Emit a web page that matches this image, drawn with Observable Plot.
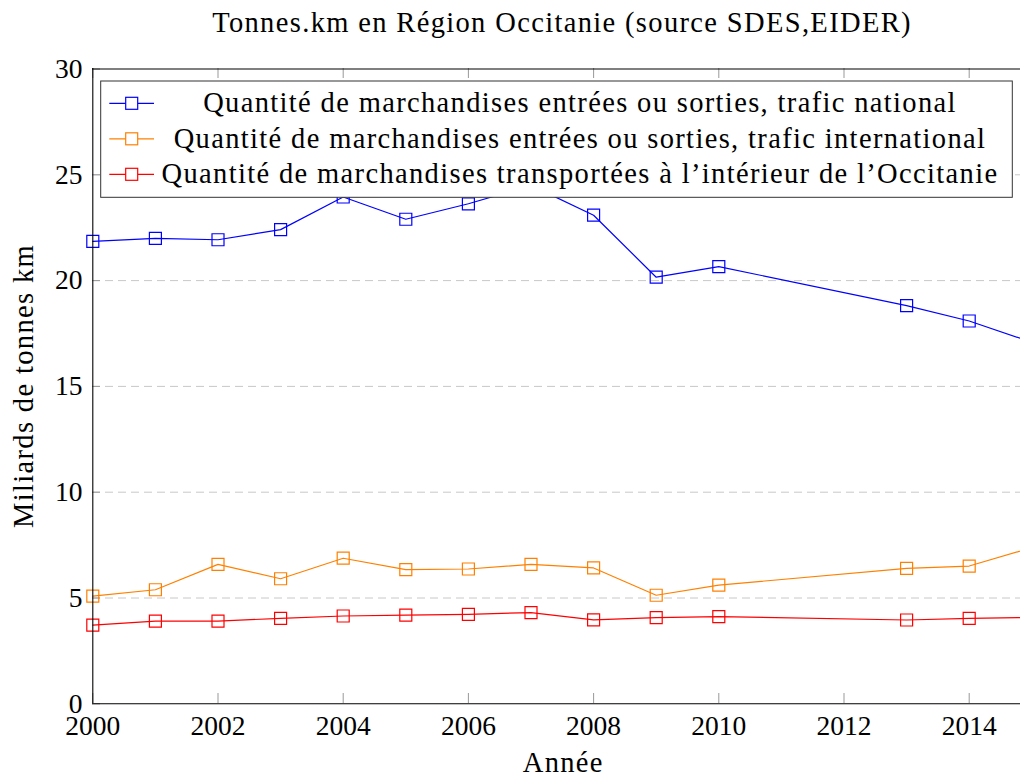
<!DOCTYPE html>
<html><head><meta charset="utf-8">
<script src="https://cdn.jsdelivr.net/npm/d3@7"></script>
<script src="https://cdn.jsdelivr.net/npm/@observablehq/plot@0.6"></script>
<style>html,body{margin:0;padding:0;background:#fff;overflow:hidden}</style>
</head><body><div id="chart"></div>
<script>
const title = "Tonnes.km en Région Occitanie (source SDES,EIDER)";
const xLabel = "Année";
const yLabel = "Miliards de tonnes km";
const years = [2000, 2001, 2002, 2003, 2004, 2005, 2006, 2007, 2008, 2009, 2010, 2013, 2014, 2015];
const seriesNames = [
  "Quantité de marchandises entrées ou sorties, trafic national",
  "Quantité de marchandises entrées ou sorties, trafic international",
  "Quantité de marchandises transportées à l’intérieur de l’Occitanie"
];
const national      = [21.85, 22.0, 21.93, 22.41, 23.95, 22.9, 23.63, 24.5, 23.09, 20.16, 20.66, 18.82, 18.09, 17.09];
const international = [5.09, 5.39, 6.59, 5.91, 6.88, 6.34, 6.37, 6.59, 6.42, 5.13, 5.61, 6.4, 6.51, 7.38];
const interieur     = [3.72, 3.91, 3.91, 4.04, 4.15, 4.19, 4.23, 4.31, 3.97, 4.07, 4.12, 3.96, 4.04, 4.08];
const xTicks = [2000, 2002, 2004, 2006, 2008, 2010, 2012, 2014];
const yTicks = [0, 5, 10, 15, 20, 25, 30];
const gridValues = [5, 10, 15, 20, 25];
const colors = ["#0000ff", "#ff8000", "#ff0000"];

const data = [];
[national, international, interieur].forEach((vals, i) =>
  vals.forEach((v, j) => data.push({year: years[j], value: v, series: seriesNames[i]})));

const FONT = "'Liberation Serif', 'Times New Roman', serif";
const FS = 28.5;
const TICK_FS = 27.5;
const LS = "1.35px";

function legend() {
  const g = d3.create("svg:g");
  const x0 = 100.7, y0 = 81, w = 911.6, h = 116.3;
  g.append("rect").attr("x", x0).attr("y", y0).attr("width", w).attr("height", h)
    .attr("fill", "white").attr("stroke", "#333").attr("stroke-width", 1);
  seriesNames.forEach((name, i) => {
    const cy = 103.3 + i * 35.5;
    const c = colors[i];
    g.append("line").attr("x1", 109.3).attr("x2", 154).attr("y1", cy).attr("y2", cy)
      .attr("stroke", c).attr("stroke-width", 1.2);
    g.append("rect").attr("x", 131.7 - 6).attr("y", cy - 6).attr("width", 12).attr("height", 12)
      .attr("fill", "white").attr("stroke", c).attr("stroke-width", 1.2);
    g.append("text").attr("x", 580).attr("y", 112 + i * 35.5)
      .attr("text-anchor", "middle").attr("fill", "black")
      .style("font-family", FONT).style("font-size", FS + "px").style("letter-spacing", LS)
      .text(name);
  });
  return g.node();
}

const chart = Plot.plot({
  width: 1020, height: 775,
  marginLeft: 92, marginRight: 0, marginTop: 68, marginBottom: 72,
  style: {fontFamily: FONT, fontSize: FS + "px", background: "white", color: "black", letterSpacing: LS},
  x: {domain: [2000, 2015], range: [92.3, 1031.3]},
  y: {domain: [0, 30], range: [703.3, 68.5]},
  color: {domain: seriesNames, range: colors},
  marks: [
    Plot.ruleY(gridValues, {y: d => d, stroke: "#c8c8c8", strokeDasharray: "8,5", strokeWidth: 1}),
    Plot.tickX(xTicks, {x: d => d, insetTop: 625, stroke: "#999"}),
    Plot.tickX(xTicks, {x: d => d, insetBottom: 625, stroke: "#999"}),
    Plot.tickY(yTicks, {y: d => d, insetRight: 920, stroke: "#999"}),
    Plot.line(data, {x: "year", y: "value", z: "series", stroke: "series", strokeWidth: 1.2}),
    Plot.dot(data, {x: "year", y: "value", stroke: "series", symbol: "square", r: 6.77, strokeWidth: 1.2, fill: "none"}),
    Plot.ruleY([0], {y: d => d, stroke: "black", strokeWidth: 1.1}),
    Plot.ruleY([30], {y: d => d, stroke: "black", strokeWidth: 1.1}),
    Plot.ruleX([2000], {x: d => d, stroke: "black", strokeWidth: 1.1}),
    Plot.axisX({ticks: xTicks, tickSize: 0, tickPadding: 12, tickFormat: d => String(d), label: null, fontSize: TICK_FS}),
    Plot.axisY({ticks: yTicks, tickSize: 0, tickPadding: 10, tickFormat: d => String(d), label: null, fontSize: TICK_FS}),
    Plot.text([xLabel], {text: d => d, frameAnchor: "bottom", dy: 68, dx: 6.8, lineAnchor: "bottom"}),
    Plot.text([yLabel], {text: d => d, frameAnchor: "left", textAnchor: "middle", rotate: -90, dx: -60, lineAnchor: "bottom"}),
    Plot.text([title], {text: d => d, frameAnchor: "top", dy: -36.5, dx: 5.5, lineAnchor: "bottom"}),
    legend
  ]
});
d3.select(chart).selectAll('g[aria-label$="tick label"]').style("letter-spacing", "0px");
document.getElementById("chart").appendChild(chart);
</script>
</body></html>
